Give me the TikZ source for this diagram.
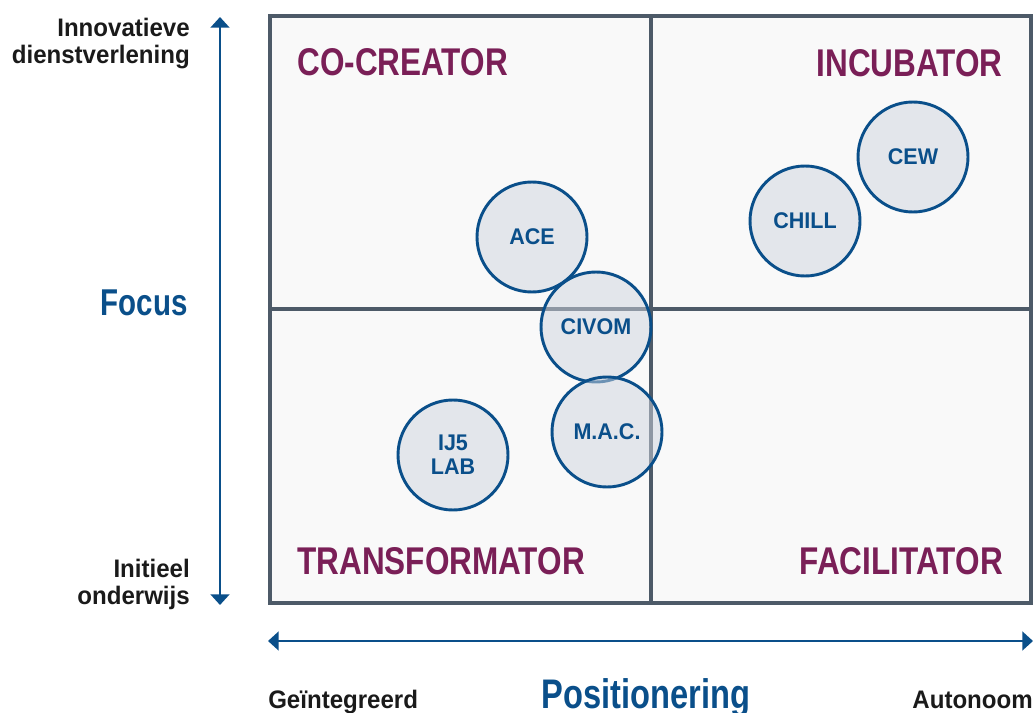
\documentclass[tikz,border=0pt]{standalone}
\usepackage{fontspec}
\setmainfont{Liberation Sans}[FakeStretch=0.79]
\newfontfamily\widefont{Liberation Sans}[FakeStretch=0.95]
\newfontfamily\titlefont{Liberation Sans}[FakeStretch=0.815]
\usetikzlibrary{arrows.meta}

\definecolor{gridgrey}{HTML}{4D5A68}
\definecolor{cellfill}{HTML}{F9F9F9}
\definecolor{axisblue}{HTML}{0A4F8A}
\definecolor{titlepurple}{HTML}{7A1F57}
\definecolor{bubblefill}{HTML}{CFD5DF}
\definecolor{labelblack}{HTML}{1A1A1A}

\tikzset{
  quadtitle/.style={font=\titlefont\bfseries\fontsize{29}{30}\selectfont, text=titlepurple, inner sep=0pt},
  axistext/.style={font=\widefont\bfseries\fontsize{19}{20}\selectfont, text=labelblack, inner sep=0pt, align=right},
  axisname/.style={font=\bfseries\fontsize{28}{30}\selectfont, text=axisblue, inner sep=0pt},
  bubble/.style={circle, draw=axisblue, line width=2.2pt, fill=bubblefill, fill opacity=0.5, text opacity=1,
    minimum size=82.5pt, inner sep=0pt, align=center, text=axisblue,
    font=\widefont\bfseries\fontsize{17}{18}\selectfont},
  axisarrow/.style={draw=axisblue, line width=2pt, {Triangle[width=14pt,length=8pt]}-{Triangle[width=14pt,length=8pt]}}
}

\begin{document}
\begin{tikzpicture}[x=0.75pt,y=-0.75pt]
    \useasboundingbox (0,0) rectangle (1035,713);

    \fill[cellfill] (270,16) rectangle (1031,603); % Quadrant field
    \draw[gridgrey,line width=3pt] (270,16) rectangle (1031,603);
    \draw[gridgrey,line width=3pt] (651,16) -- (651,603); % Split the quadrants
    \draw[gridgrey,line width=3pt] (270,309) -- (1031,309);

    % Quadrant names
    \node[quadtitle,anchor=base west] (cocreator) at (297,76) {CO-CREATOR};
    \node[quadtitle,anchor=base east] (incubator) at (1003,77) {INCUBATOR};
    \node[quadtitle,anchor=base west] (transformator) at (297,574) {TRANSFORMATOR};
    \node[quadtitle,anchor=base east] (facilitator) at (1003,574) {FACILITATOR};

    % The bubbles
    \node[bubble] (ace)   at (532,237) {ACE};
    \node[bubble] (civom) at (596,327) {CIVOM};
    \node[bubble] (mac)   at (607,432) {M.A.C.};
    \node[bubble] (ijlab) at (453,455) {IJ5\\LAB};
    \node[bubble] (chill) at (805,221) {CHILL};
    \node[bubble] (cew)   at (913,157) {CEW};

    % Vertical axis
    \coordinate (focustop) at (220,17);
    \coordinate (focusbottom) at (220,605);
    \draw[axisarrow] (focusbottom) -- (focustop);
    \node[axistext,anchor=north east] (innovatief) at (190,18) {Innovatieve\\dienstverlening};
    \node[axistext,anchor=north east] (initieel) at (190,559) {Initieel\\onderwijs};
    \node[axisname,anchor=base east] (focus) at (188,315) {Focus};

    % Horizontal axis
    \coordinate (posleft) at (268,641);
    \coordinate (posright) at (1033,641);
    \draw[axisarrow] (posleft) -- (posright);
    \node[axistext,anchor=base west] (geintegreerd) at (268,708) {Geïntegreerd};
    \node[axistext,anchor=base east] (autonoom) at (1033,708) {Autonoom};
    \node[axisname,font=\bfseries\fontsize{31}{32}\selectfont,anchor=base] (positionering) at (646,708) {Positionering};
\end{tikzpicture}
\end{document}
